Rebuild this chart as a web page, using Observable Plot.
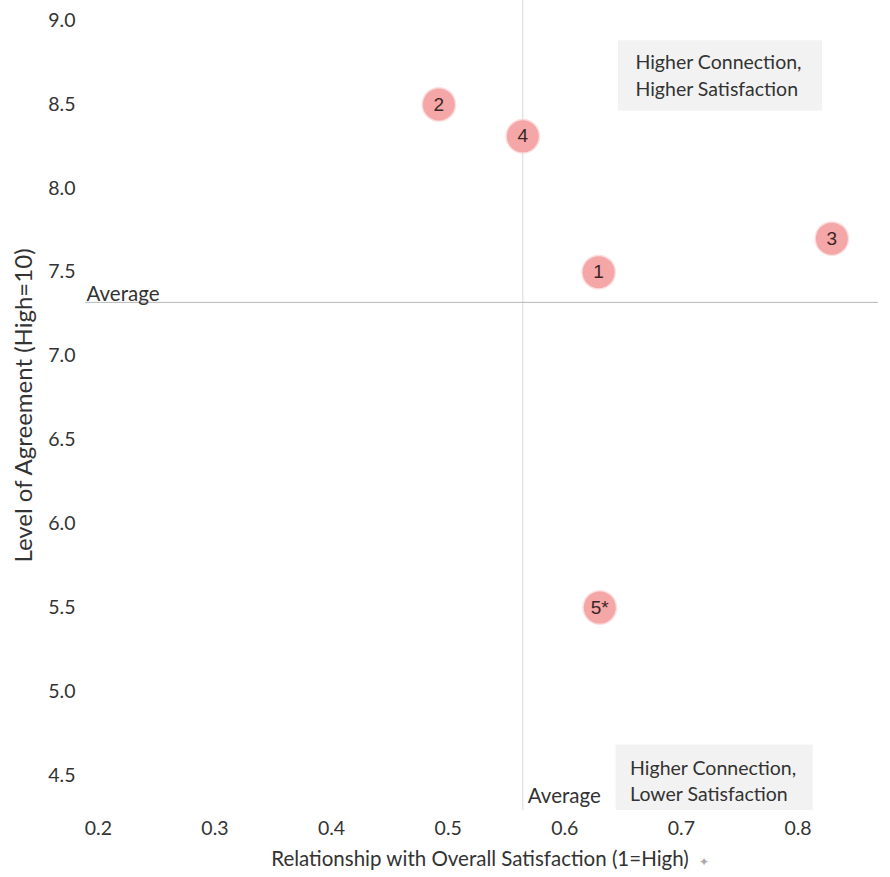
<!DOCTYPE html>
<html>
<head>
<meta charset="utf-8">
<script src="https://cdn.jsdelivr.net/npm/d3@7"></script>
<script src="https://cdn.jsdelivr.net/npm/@observablehq/plot@0.6"></script>
<style>
  html, body { margin: 0; padding: 0; background: #fff; }
  #chart svg { display: block; }
</style>
</head>
<body>
<div id="chart"></div>
<script>
// Data
const labels = ["1", "2", "3", "4", "5*"];
const connection = [0.629, 0.492, 0.829, 0.564, 0.630];   // x: Relationship with Overall Satisfaction
const agreement = [7.50, 8.50, 7.70, 8.31, 5.50];          // y: Level of Agreement
const averageConnection = 0.564;
const averageAgreement = 7.32;
const xTicks = [0.2, 0.3, 0.4, 0.5, 0.6, 0.7, 0.8];
const yTicks = [4.5, 5.0, 5.5, 6.0, 6.5, 7.0, 7.5, 8.0, 8.5, 9.0];
const quadrantNames = ["Higher Connection,\nHigher Satisfaction", "Higher Connection,\nLower Satisfaction"];

const points = labels.map((l, i) => ({label: l, x: connection[i], y: agreement[i]}));

// annotation anchors (data space)
const xDomain = [0.189, 0.869];
const yDomain = [4.29, 9.12];
const boxTop = {x1: 0.646, x2: 0.821, y1: 8.46, y2: 8.88, text: quadrantNames[0]};
const boxBottom = {x1: 0.644, x2: 0.813, y1: 4.29, y2: 4.68, text: quadrantNames[1]};

const font = "Lato, 'Open Sans', sans-serif";
const ink = "#333";
const fmt = d3.format(".1f");

const chart = Plot.plot({
  width: 890,
  height: 877,
  marginLeft: 85,
  marginRight: 12,
  marginTop: 0,
  marginBottom: 67,
  style: {fontFamily: font, background: "#fff", color: ink},
  x: {domain: xDomain},
  y: {domain: yDomain},
  marks: [
    Plot.rect([boxTop, boxBottom], {x1: "x1", x2: "x2", y1: "y1", y2: "y2", fill: "#f2f2f2"}),
    Plot.ruleX([averageConnection], {stroke: "#d8d8d8", strokeWidth: 1}),
    Plot.ruleY([averageAgreement], {stroke: "#b8b8b8", strokeWidth: 1}),
    Plot.axisX({ticks: xTicks, tickFormat: fmt, tickSize: 0, tickPadding: 11, fontSize: 19.5, label: null, fill: ink}),
    Plot.axisY({ticks: yTicks, tickFormat: fmt, tickSize: 0, tickPadding: 10, fontSize: 19.5, label: null, fill: ink}),
    Plot.text(["Relationship with Overall Satisfaction (1=High)"], {frameAnchor: "bottom", dy: 55, dx: -2, fontSize: 20.5, fill: ink}),
    Plot.text(["✦"], {frameAnchor: "bottom", dy: 55, dx: 222, fontSize: 12, fill: "#aaa"}),
    Plot.text(["Level of Agreement (High=10)"], {frameAnchor: "left", textAnchor: "middle", rotate: -90, dx: -61, fontSize: 24, fill: ink}),
    Plot.text(["Average"], {x: xDomain[0], y: averageAgreement, textAnchor: "start", lineAnchor: "bottom", dx: 1, dy: -1, fontSize: 20.5, fill: ink}),
    Plot.text(["Average"], {x: averageConnection, y: yDomain[0], textAnchor: "start", lineAnchor: "bottom", dx: 5, dy: -8, fontSize: 20.5, fill: ink}),
    Plot.text([boxTop], {x: "x1", y: "y2", text: "text", textAnchor: "start", lineAnchor: "top", dx: 17, dy: 10, fontSize: 19.5, lineHeight: 1.35, fill: ink}),
    Plot.text([boxBottom], {x: "x1", y: "y2", text: "text", textAnchor: "start", lineAnchor: "top", dx: 14, dy: 11, fontSize: 19.5, lineHeight: 1.35, fill: ink}),
    Plot.dot(points, {x: "x", y: "y", r: 17.5, fill: "#f8c0c0", fillOpacity: 0.5}),
    Plot.dot(points, {x: "x", y: "y", r: 16, fill: "#f5a7a7"}),
    Plot.text(points, {x: "x", y: "y", text: "label", fontSize: 19, fill: "#3a2626", fontFamily: "'Liberation Sans', Arial, sans-serif"})
  ]
});

document.getElementById("chart").append(chart);
</script>
</body>
</html>
